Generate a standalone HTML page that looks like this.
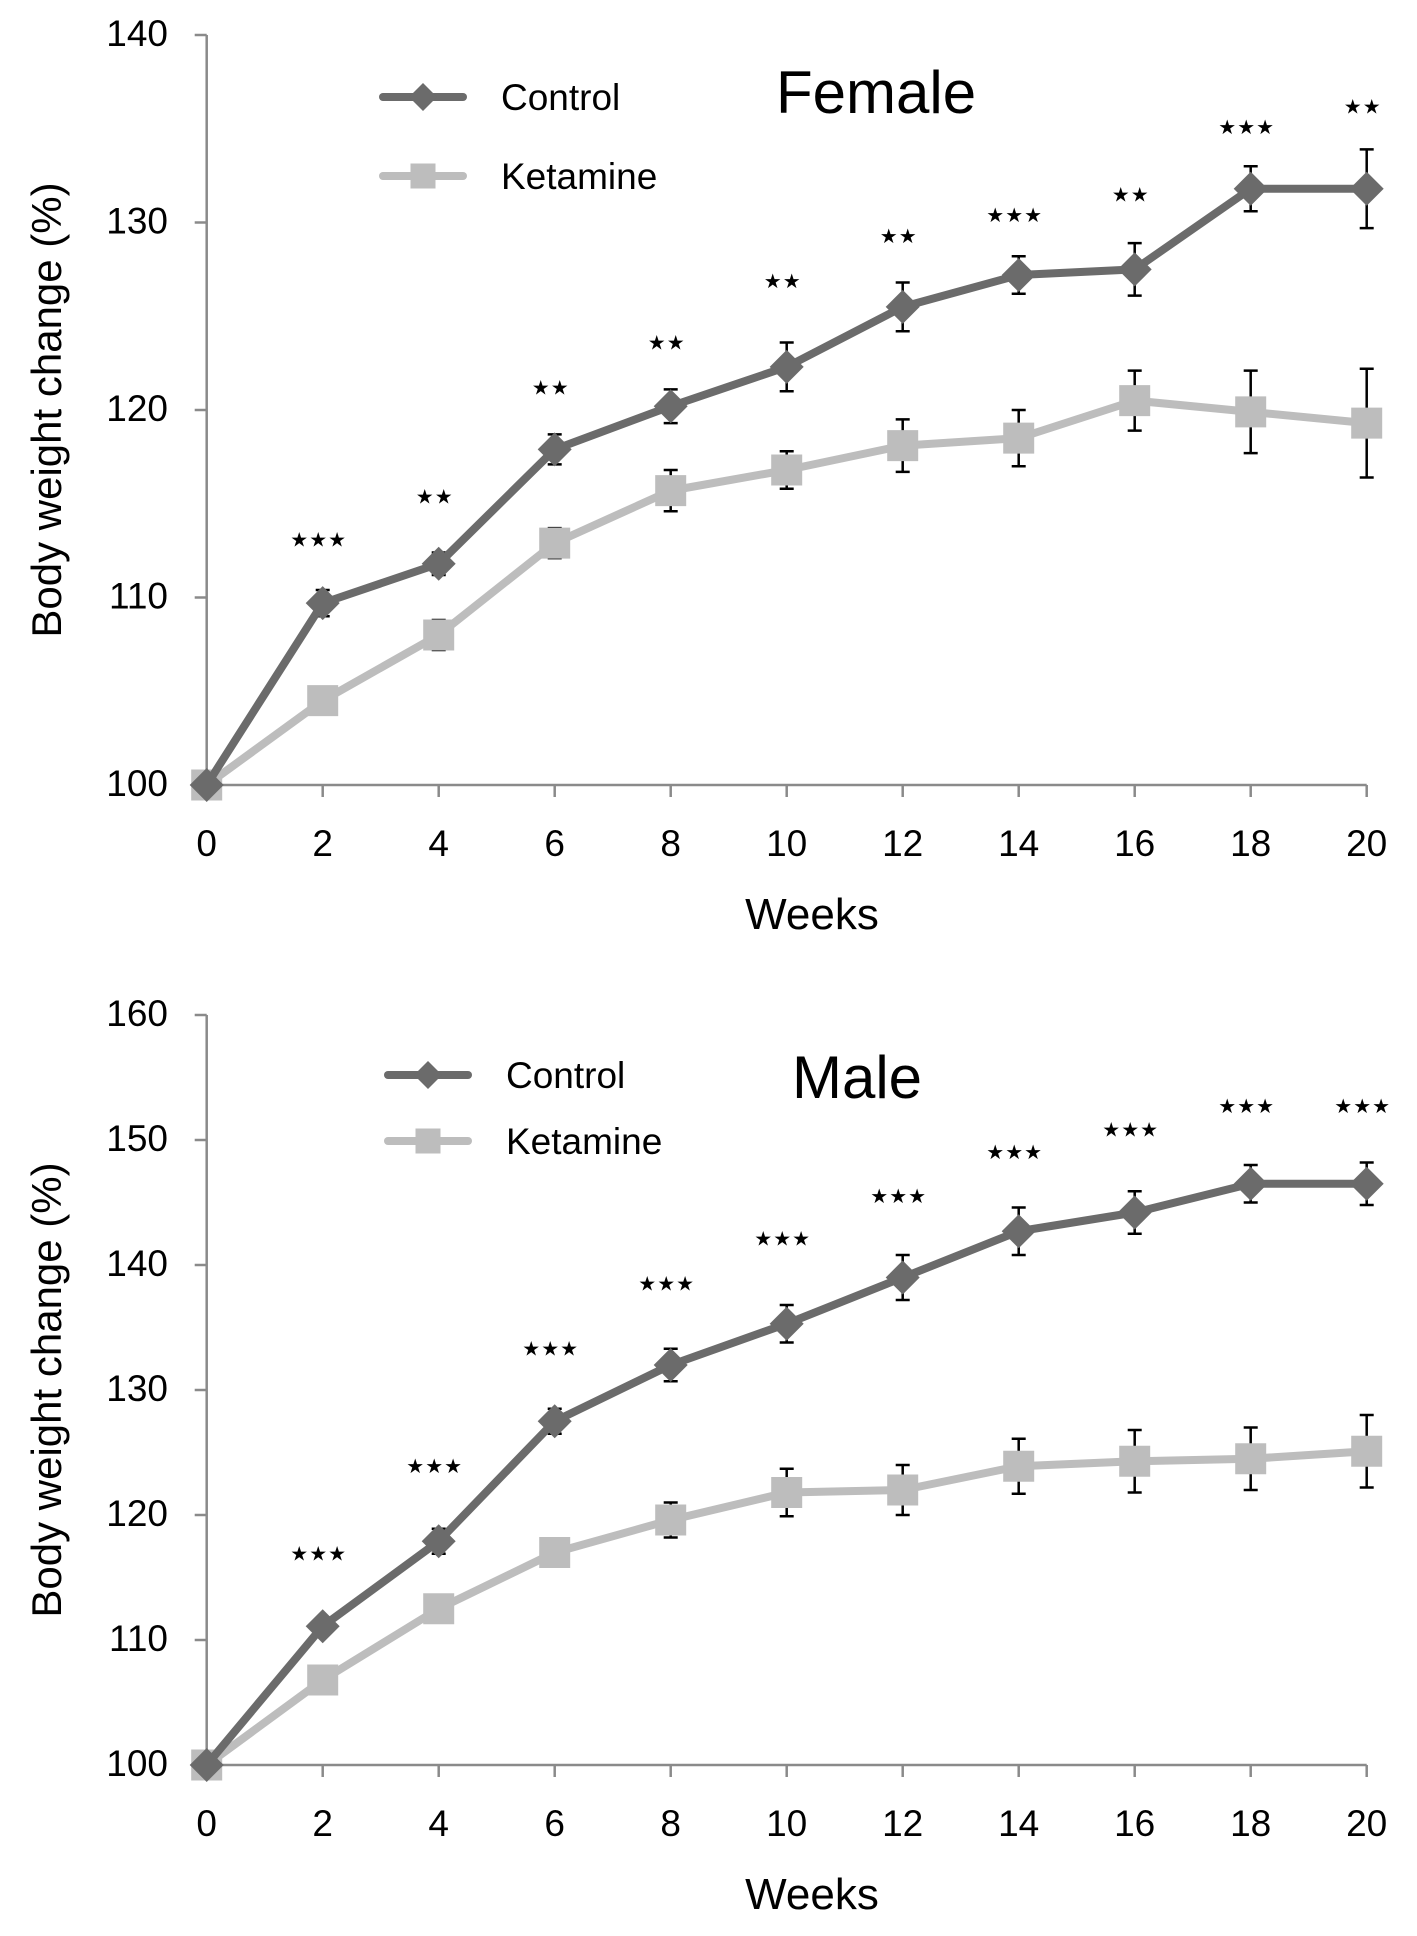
<!DOCTYPE html>
<html><head><meta charset="utf-8"><style>
html,body{margin:0;padding:0;background:#fff}
svg{display:block}
text{font-family:"Liberation Sans",Arial,sans-serif;fill:#000}
</style></head><body>
<svg id="chart" width="1417" height="1936" viewBox="0 0 1417 1936" xmlns="http://www.w3.org/2000/svg"></svg>
<script>
const weeks = [0,2,4,6,8,10,12,14,16,18,20];
const xTicks = [0,2,4,6,8,10,12,14,16,18,20];
const femaleControl = [100,109.7,111.8,117.9,120.2,122.3,125.5,127.2,127.5,131.8,131.8];
const femaleControlErr = [0,0.7,0.6,0.8,0.9,1.3,1.3,1.0,1.4,1.2,2.1];
const femaleKetamine = [100,104.5,108.0,112.9,115.7,116.8,118.1,118.5,120.5,119.9,119.3];
const femaleKetamineErr = [0,0,0.8,0.8,1.1,1.0,1.4,1.5,1.6,2.2,2.9];
const femaleStars = ["","***","**","**","**","**","**","***","**","***","**"];
const femaleStarY = [0,113.2,115.5,121.3,123.7,127.0,129.4,130.5,131.6,135.2,136.3];
const femaleYTicks = [100,110,120,130,140];
const maleControl = [100,111.1,117.9,127.5,132.0,135.3,139.0,142.7,144.2,146.5,146.5];
const maleControlErr = [0,0.6,1.0,1.0,1.3,1.5,1.8,1.9,1.7,1.5,1.7];
const maleKetamine = [100,106.8,112.5,117.0,119.6,121.8,122.0,123.9,124.3,124.5,125.1];
const maleKetamineErr = [0,0,0,1.1,1.4,1.9,2.0,2.2,2.5,2.5,2.9];
const maleStars = ["","***","***","***","***","***","***","***","***","***","***"];
const maleStarY = [0,117.1,124.1,133.5,138.7,142.3,145.7,149.2,151.0,152.9,152.9];
const maleYTicks = [100,110,120,130,140,150,160];

const NS = "http://www.w3.org/2000/svg";
const svg = document.getElementById('chart');
function mk(tag, attrs, parent, txt){
  const e = document.createElementNS(NS, tag);
  for (const k in attrs) e.setAttribute(k, attrs[k]);
  if (txt !== undefined) e.textContent = txt;
  (parent||svg).appendChild(e);
  return e;
}
const CDARK = "#6b6b6b", CLIGHT = "#bdbdbd";
function diamond(g, cx, cy, r){
  const d = mk('polygon', {points:`${cx},${cy-r} ${cx+r},${cy} ${cx},${cy+r} ${cx-r},${cy}`, fill:CDARK}, g);
  
  
}
function square(g, cx, cy, s){
  const q = mk('rect', {x:cx-s/2, y:cy-s/2, width:s, height:s, fill:CLIGHT}, g);
  
  
}

function drawChart(cfg){
  const g = mk('g', {});
  
  
  const x0 = 206.7, x1 = 1366.7;
  const xs = w => x0 + (w - 0) / 20 * (x1 - x0);
  const ys = v => cfg.yBot - (v - cfg.yMin) / (cfg.yMax - cfg.yMin) * (cfg.yBot - cfg.yTop);
  const ya = mk('line', {x1:x0, y1:cfg.yTop, x2:x0, y2:cfg.yBot, stroke:'#8a8a8a', 'stroke-width':2.5}, g);
   
  const xa = mk('line', {x1:x0, y1:cfg.yBot, x2:x1, y2:cfg.yBot, stroke:'#8a8a8a', 'stroke-width':2.5}, g);
   
  cfg.yTicks.forEach(v => {
    const y = ys(v);
    mk('line', {x1:x0-12, y1:y, x2:x0, y2:y, stroke:'#8a8a8a', 'stroke-width':2.5}, g);
    const t = mk('text', {x:168, y:y+11, 'text-anchor':'end', 'font-size':37}, g, String(v));
     
  });
  xTicks.forEach(w => {
    const x = xs(w);
    if (w > 0) mk('line', {x1:x, y1:cfg.yBot, x2:x, y2:cfg.yBot+12, stroke:'#8a8a8a', 'stroke-width':2.5}, g);
    const t = mk('text', {x:x, y:cfg.yBot+71, 'text-anchor':'middle', 'font-size':37}, g, String(w));
     
  });
  const xt = mk('text', {x:812, y:cfg.yBot+144, 'text-anchor':'middle', 'font-size':44}, g, 'Weeks');
   
  const ycy = (cfg.yTop + cfg.yBot)/2;
  const yt = mk('text', {x:0, y:0, 'text-anchor':'middle', 'font-size':42, transform:`translate(61,${ycy}) rotate(-90)`}, g, 'Body weight change (%)');
   
  const tt = mk('text', {x:cfg.titleX, y:cfg.titleY, 'font-size':60, 'font-family':'"DejaVu Sans","Liberation Sans",sans-serif'}, g, cfg.title);
   
  const lg = mk('g', {}, g);
   
  mk('line', {x1:cfg.legX, y1:cfg.legY, x2:cfg.legX+80, y2:cfg.legY, stroke:CDARK, 'stroke-width':8, 'stroke-linecap':'round'}, lg);
  diamond(lg, cfg.legX+40, cfg.legY, 14);
  const l1 = mk('text', {x:cfg.legX+118, y:cfg.legY+13, 'font-size':37}, lg, 'Control');
   
  mk('line', {x1:cfg.legX, y1:cfg.legY+cfg.legGap, x2:cfg.legX+80, y2:cfg.legY+cfg.legGap, stroke:CLIGHT, 'stroke-width':8, 'stroke-linecap':'round'}, lg);
  square(lg, cfg.legX+40, cfg.legY+cfg.legGap, 25);
  const l2 = mk('text', {x:cfg.legX+118, y:cfg.legY+cfg.legGap+13, 'font-size':37}, lg, 'Ketamine');
   
  function series(vals, errs, color, kind){
    const sg = mk('g', {}, g);
    
    
    vals.forEach((v,i) => {
      if (errs[i] > 0.2) {
        const x = xs(weeks[i]), yt2 = ys(v+errs[i]), yb = ys(v-errs[i]);
        const e = mk('path', {d:`M${x},${yt2}V${yb}M${x-7},${yt2}H${x+7}M${x-7},${yb}H${x+7}`, stroke:'#000', 'stroke-width':2.5, fill:'none'}, sg);
         
      }
    });
    const pts = vals.map((v,i) => `${xs(weeks[i])},${ys(v)}`).join(' ');
    const pl = mk('polyline', {points:pts, fill:'none', stroke:color, 'stroke-width':8, 'stroke-linejoin':'round'}, sg);
     
    vals.forEach((v,i) => {
      if (kind === 'control') diamond(sg, xs(weeks[i]), ys(v), 17);
      else square(sg, xs(weeks[i]), ys(v), 31);
    });
  }
  series(cfg.ket, cfg.ketErr, CLIGHT, 'ketamine');
  series(cfg.ctrl, cfg.ctrlErr, CDARK, 'control');
  cfg.stars.forEach((s,i) => {
    if (!s) return;
    const t = mk('text', {x:xs(weeks[i])-4, y:ys(cfg.starY[i])+9, 'text-anchor':'middle', 'font-size':20, 'font-family':'"DejaVu Sans",sans-serif', 'letter-spacing':1}, g, s.replace(/\*/g,'★'));
     
  });
}
drawChart({name:'female-chart', title:'Female', yTop:35, yBot:785, yMin:100, yMax:140, yTicks:femaleYTicks,
  ctrl:femaleControl, ctrlErr:femaleControlErr, ket:femaleKetamine, ketErr:femaleKetamineErr,
  stars:femaleStars, starY:femaleStarY, titleX:776, titleY:113, legX:383, legY:97, legGap:79});
drawChart({name:'male-chart', title:'Male', yTop:1015, yBot:1765, yMin:100, yMax:160, yTicks:maleYTicks,
  ctrl:maleControl, ctrlErr:maleControlErr, ket:maleKetamine, ketErr:maleKetamineErr,
  stars:maleStars, starY:maleStarY, titleX:792, titleY:1098, legX:388, legY:1075, legGap:66});
</script>
</body></html>
